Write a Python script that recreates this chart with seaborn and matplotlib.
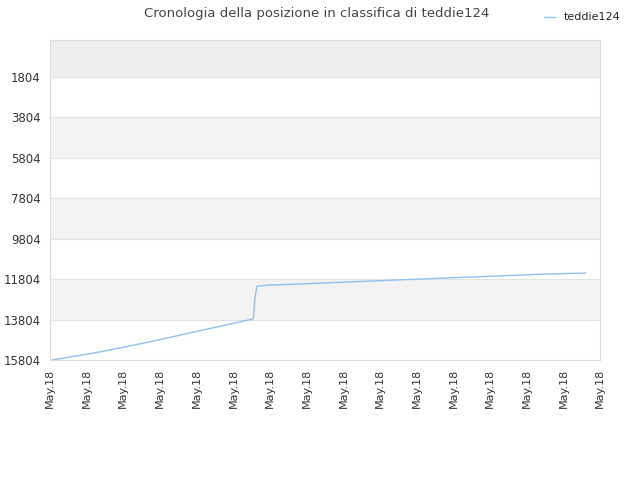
import matplotlib
matplotlib.use("Agg")
import matplotlib.pyplot as plt
import seaborn as sns
import pandas as pd

# position over time (x as share of the period, 0-100)
step = [0.4, 9, 18, 27, 36.8, 37.0, 37.2, 37.6, 40, 45, 54, 63, 72, 81, 90, 97.3]
rank = [15804, 15409, 14915, 14371, 13779, 13700, 12840, 12149, 12100, 12050, 11950, 11850, 11750, 11655, 11555, 11506]
yticks = [1804, 3804, 5804, 7804, 9804, 11804, 13804, 15804]
xtick_labels = ["May.18"] * 16

df = pd.DataFrame({"step": step, "rank": rank})

sns.set_style("white")
plt.rcParams["font.family"] = ["DejaVu Sans"]
fig, ax = plt.subplots(figsize=(6.4, 4.8), dpi=100)
fig.subplots_adjust(left=0.078, right=0.938, top=0.917, bottom=0.25)

ax.set_ylim(15804, -23)
ax.set_xlim(0, 100)

# alternating bands
edges = [-23] + yticks
for i in range(len(edges) - 1):
    if i == 0:
        c = "#eeeeee"
    elif i % 2 == 0:
        c = "#f3f3f3"
    else:
        c = "white"
    ax.axhspan(edges[i], edges[i + 1], color=c, zorder=0, lw=0)
for y in yticks:
    ax.axhline(y, color="#e2e2e2", lw=0.8, zorder=1)

sns.lineplot(data=df, x="step", y="rank", ax=ax, color="#90c0f0", lw=1, label="teddie124", zorder=3)

ax.set_yticks(yticks)
ax.set_yticklabels([str(v) for v in yticks], fontsize=8.5, color="#333333")
ax.set_xticks([i * 100 / 15 for i in range(16)])
ax.set_xticklabels(xtick_labels, rotation=90, fontsize=8, color="#333333")
ax.tick_params(axis="both", length=3, color="#cccccc")
ax.set_xlabel("")
ax.set_ylabel("")
for s in ax.spines.values():
    s.set_color("#dddddd")

fig.suptitle("Cronologia della posizione in classifica di teddie124", x=0.495, y=0.985, fontsize=9.5, color="#444444")
handles, labels = ax.get_legend_handles_labels()
ax.get_legend().remove()
fig.legend(handles, labels, loc="upper right", bbox_to_anchor=(0.985, 0.995), frameon=False, fontsize=8, handlelength=1)

fig.savefig("out.png")
